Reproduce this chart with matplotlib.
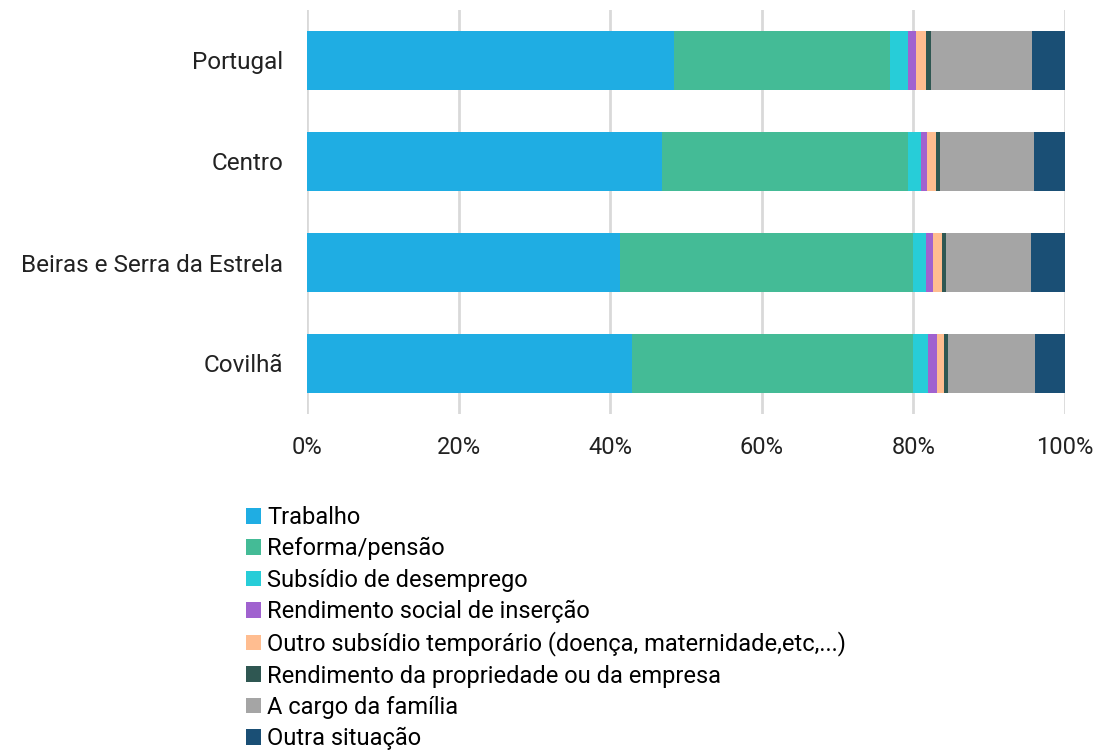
import matplotlib
matplotlib.use("Agg")
import matplotlib.pyplot as plt
import numpy as np

plt.rcParams['font.family'] = ['Roboto', 'DejaVu Sans']

categories = ["Portugal", "Centro", "Beiras e Serra da Estrela", "Covilhã"]
series_names = ["Trabalho", "Reforma/pensão", "Subsídio de desemprego",
                "Rendimento social de inserção",
                "Outro subsídio temporário (doença, maternidade,etc,...)",
                "Rendimento da propriedade ou da empresa",
                "A cargo da família", "Outra situação"]
trabalho = [48.4, 46.8, 41.3, 42.9]
reforma = [28.5, 32.5, 38.6, 37.0]
subsidio_desemprego = [2.4, 1.7, 1.7, 2.0]
rsi = [1.0, 0.8, 1.0, 1.2]
outro_subsidio = [1.3, 1.2, 1.2, 1.0]
propriedade = [0.7, 0.5, 0.5, 0.5]
cargo_familia = [13.4, 12.4, 11.2, 11.4]
outra = [4.3, 4.1, 4.5, 4.0]
series = [trabalho, reforma, subsidio_desemprego, rsi, outro_subsidio,
          propriedade, cargo_familia, outra]
colors = ["#1fade3", "#44bb96", "#27cdd8", "#a062cf", "#ffbd90",
          "#2f5752", "#a5a5a5", "#1a4f75"]
xticks = [0, 20, 40, 60, 80, 100]
xtick_labels = ["0%", "20%", "40%", "60%", "80%", "100%"]

fig = plt.figure(figsize=(10.96, 7.51), dpi=100)
ax = fig.add_axes([307/1096, 1-414/751, (1065-307)/1096, 404/751])

y = np.arange(len(categories))
left = np.zeros(len(categories))
for name, vals, c in zip(series_names, series, colors):
    v = np.array(vals, dtype=float)
    ax.barh(y, v, left=left, height=0.58, color=c, label=name, zorder=3)
    left += v

ax.set_ylim(3.5, -0.5)
ax.set_xlim(0, 100)
ax.set_yticks(y)
ax.set_yticklabels(categories, fontsize=17.5, color="#222222")
ax.set_xticks(xticks)
ax.set_xticklabels(xtick_labels, fontsize=17, color="#222222")
ax.tick_params(axis='both', length=0)
ax.tick_params(axis='x', pad=16)
ax.tick_params(axis='y', pad=17)
ax.grid(axis='x', color="#d9d9d9", linewidth=2, zorder=0)
for s in ax.spines.values():
    s.set_visible(False)

fig.legend(loc="upper left", bbox_to_anchor=(246/1096, 1-506/751),
           frameon=False, fontsize=17, handlelength=0.65, handleheight=0.65,
           handletextpad=0.25, labelspacing=0.35, borderpad=0, borderaxespad=0)

fig.savefig("out.png", dpi=100)
